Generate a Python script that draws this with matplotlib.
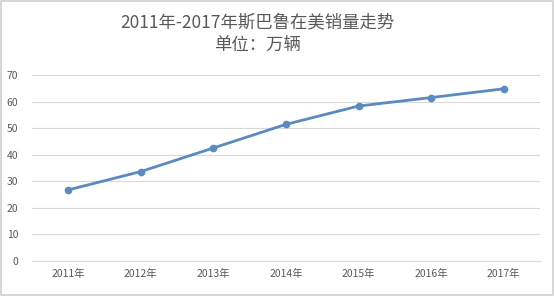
import matplotlib
matplotlib.use('Agg')
import matplotlib.pyplot as plt
from matplotlib.patches import Rectangle

plt.rcParams['font.family'] = ['Noto Sans CJK SC', 'DejaVu Sans']

years = ['2011年', '2012年', '2013年', '2014年', '2015年', '2016年', '2017年']
sales = [26.7, 33.6, 42.5, 51.4, 58.3, 61.5, 64.8]
y_ticks = [0, 10, 20, 30, 40, 50, 60, 70]

text_color = '#595959'
line_color = '#5A8AC0'

fig = plt.figure(figsize=(5.54, 2.96), dpi=100)
ax = fig.add_axes([32 / 554, 1 - 260.7 / 296, 508 / 554, (260.7 - 75) / 296])

x = list(range(len(years)))
ax.plot(x, sales, color=line_color, linewidth=2.0, marker='o',
        markersize=4.5, markerfacecolor=line_color, markeredgecolor=line_color)

ax.set_xlim(-0.5, len(years) - 0.5)
ax.set_ylim(0, 70)
ax.set_yticks(y_ticks)
ax.set_xticks(x)
ax.set_xticklabels(years)
ax.grid(axis='y', color='#D9D9D9', linewidth=0.8)
ax.set_axisbelow(True)
for side in ['top', 'right', 'left']:
    ax.spines[side].set_visible(False)
ax.spines['bottom'].set_color('#D9D9D9')
ax.spines['bottom'].set_linewidth(0.8)
ax.tick_params(axis='both', length=0, labelsize=7.5, colors=text_color)
ax.tick_params(axis='y', pad=10)
ax.tick_params(axis='x', pad=6)

fig.text(0.465, 1 - 22 / 296, '2011年-2017年斯巴鲁在美销量走势',
         ha='center', va='center', fontsize=12.5, color=text_color)
fig.text(0.465, 1 - 45 / 296, '单位：万辆',
         ha='center', va='center', fontsize=12.5, color=text_color)

# light frame around the chart
fig.patches.append(Rectangle((0.002, 0.003), 0.996, 0.994, transform=fig.transFigure,
                             fill=False, edgecolor='#D0D0D0', linewidth=1.2))

fig.savefig('out.png', dpi=100)
